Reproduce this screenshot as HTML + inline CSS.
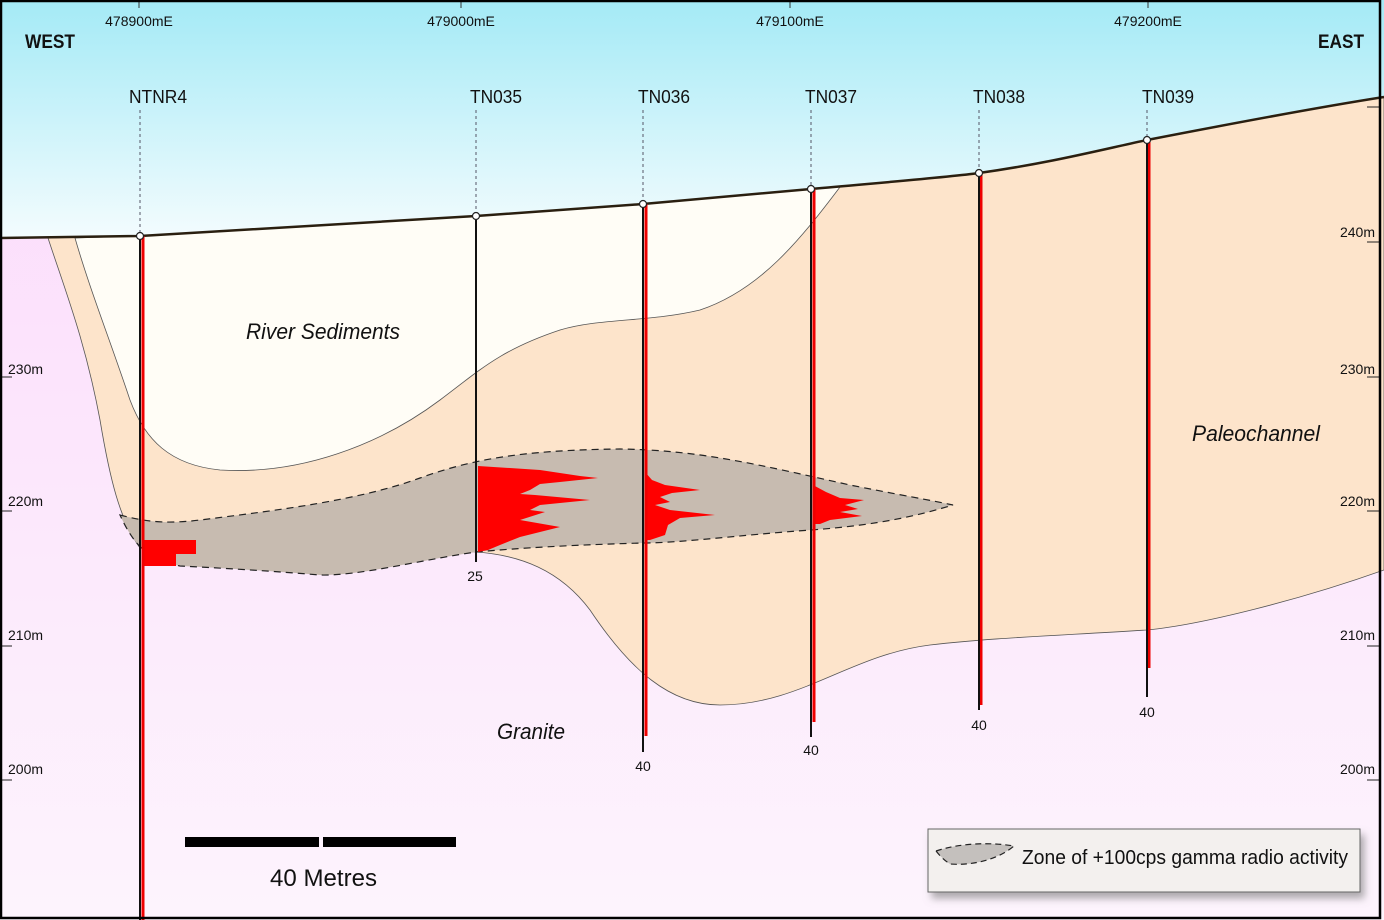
<!DOCTYPE html>
<html><head><meta charset="utf-8"><style>
html,body{margin:0;padding:0;background:#fff}
svg{display:block}
text{font-family:"Liberation Sans",sans-serif;fill:#111}
</style></head><body>
<svg width="1384" height="920" viewBox="0 0 1384 920" xmlns="http://www.w3.org/2000/svg">
<defs>
<linearGradient id="sky" gradientUnits="userSpaceOnUse" x1="0" y1="0" x2="0" y2="240">
<stop offset="0" stop-color="#a4eaf6"/><stop offset="1" stop-color="#f4fcfe"/>
</linearGradient>
<linearGradient id="gr" x1="0" y1="0" x2="0" y2="1">
<stop offset="0" stop-color="#fbdcfb"/><stop offset="1" stop-color="#fdf4fd"/>
</linearGradient>
<filter id="sh" x="-5%" y="-20%" width="115%" height="160%"><feDropShadow dx="4" dy="6" stdDeviation="4" flood-color="#777" flood-opacity="0.6"/></filter>
</defs>
<rect x="0" y="0" width="1384" height="920" fill="url(#sky)"/>
<!-- granite -->
<path d="M0,238 L140,236 L476,216 L643,204 L811,189 C900,181 950,177 979,173 C1050,163 1100,150 1147,140 C1250,120 1320,107 1384,97 L1384,920 L0,920 Z" fill="url(#gr)"/>
<!-- paleochannel -->
<path d="M48,238 L140,236 L476,216 L643,204 L811,189 C900,181 950,177 979,173 C1050,163 1100,150 1147,140 C1250,120 1320,107 1384,97 L1384,570 C1300,600 1200,625 1147,630 C1050,636 990,638 930,645 C850,655 800,705 720,705 C670,705 630,670 590,610 C560,570 520,555 476,552 C400,548 330,570 300,566 C250,560 200,560 140,548 C120,520 110,480 100,420 C85,340 65,290 48,238 Z" fill="#fde4cb" stroke="#555" stroke-width="0.8"/>
<!-- river sediments -->
<path d="M75,238 L140,236 L476,216 L643,204 L811,189 L840,187 C800,240 760,290 700,310 C650,322 600,318 560,330 C500,350 480,370 440,400 C380,445 300,475 220,470 C170,465 145,440 130,400 C110,340 90,290 75,238 Z" fill="#fffdf6" stroke="#555" stroke-width="0.8"/>
<!-- ground line -->
<path d="M0,238 L140,236 L476,216 L643,204 L811,189 C900,181 950,177 979,173 C1050,163 1100,150 1147,140 C1250,120 1320,107 1384,97" fill="none" stroke="#2a1f10" stroke-width="2.5"/>
<!-- zone -->
<path d="M120,515 C140,520 160,525 200,520 C280,510 360,500 420,478 C470,460 520,450 620,449 C700,450 760,465 850,485 C900,495 930,500 953,505 C920,515 880,525 811,530 C740,535 680,543 643,543 C570,545 520,548 476,552 C420,560 360,576 320,575 C260,570 200,567 180,566 C150,560 135,548 120,515 Z" fill="#c7bbb0" stroke="#222" stroke-width="1.2" stroke-dasharray="7,5"/>
<!-- red logs -->
<path d="M142,540 L196,540 L196,554 L176,554 L176,566 L142,566 Z" fill="#f00"/>
<path d="M478,466 L540,470 L580,476 L598,478 L560,482 L540,484 L530,490 L520,494 L535,495 L590,500 L540,505 L530,510 L545,512 L520,520 L560,527 L540,532 L520,537 L500,545 L488,550 L478,552 Z" fill="#f00"/>
<path d="M645,472 L652,480 L665,485 L700,490 L672,493 L660,497 L670,502 L655,505 L670,510 L715,515 L680,518 L668,525 L665,535 L650,540 L645,540 Z" fill="#f00"/>
<path d="M813,485 L826,492 L840,498 L864,500 L845,505 L858,509 L840,512 L862,516 L830,520 L820,524 L813,524 Z" fill="#f00"/>
<!-- holes -->
<g stroke="#556" stroke-width="1" stroke-dasharray="3,3">
<line x1="140" y1="110" x2="140" y2="236"/><line x1="476" y1="110" x2="476" y2="216"/><line x1="643" y1="110" x2="643" y2="204"/><line x1="811" y1="110" x2="811" y2="189"/><line x1="979" y1="110" x2="979" y2="173"/><line x1="1147" y1="110" x2="1147" y2="140"/>
</g>
<g stroke="#e00" stroke-width="3">
<line x1="143" y1="236" x2="143" y2="920"/><line x1="646" y1="204" x2="646" y2="736"/><line x1="814" y1="189" x2="814" y2="722"/><line x1="981" y1="173" x2="981" y2="705"/><line x1="1149" y1="140" x2="1149" y2="668"/>
</g>
<g stroke="#111" stroke-width="2">
<line x1="140" y1="236" x2="140" y2="920"/><line x1="476" y1="216" x2="476" y2="562"/><line x1="643" y1="204" x2="643" y2="752"/><line x1="811" y1="189" x2="811" y2="737"/><line x1="979" y1="173" x2="979" y2="710"/><line x1="1147" y1="140" x2="1147" y2="697"/>
</g>
<g fill="#fff" stroke="#222" stroke-width="1.2">
<circle cx="140" cy="236" r="3.5"/><circle cx="476" cy="216" r="3.5"/><circle cx="643" cy="204" r="3.5"/><circle cx="811" cy="189" r="3.5"/><circle cx="979" cy="173" r="3.5"/><circle cx="1147" cy="140" r="3.5"/>
</g>
<g font-size="18" text-anchor="middle">
<text x="158" y="103" textLength="58" lengthAdjust="spacingAndGlyphs">NTNR4</text><text x="496" y="103" textLength="52" lengthAdjust="spacingAndGlyphs">TN035</text><text x="664" y="103" textLength="52" lengthAdjust="spacingAndGlyphs">TN036</text><text x="831" y="103" textLength="52" lengthAdjust="spacingAndGlyphs">TN037</text><text x="999" y="103" textLength="52" lengthAdjust="spacingAndGlyphs">TN038</text><text x="1168" y="103" textLength="52" lengthAdjust="spacingAndGlyphs">TN039</text>
</g>
<g font-size="14" text-anchor="middle">
<text x="475" y="581">25</text><text x="643" y="771">40</text><text x="811" y="755">40</text><text x="979" y="730">40</text><text x="1147" y="717">40</text>
</g>
<!-- top eastings -->
<g stroke="#333" stroke-width="1"><line x1="139" y1="0" x2="139" y2="8"/><line x1="461" y1="0" x2="461" y2="8"/><line x1="790" y1="0" x2="790" y2="8"/><line x1="1148" y1="0" x2="1148" y2="8"/></g>
<g font-size="14" text-anchor="middle">
<text x="139" y="26">478900mE</text><text x="461" y="26">479000mE</text><text x="790" y="26">479100mE</text><text x="1148" y="26">479200mE</text>
</g>
<text x="25" y="48" font-size="19" font-weight="bold" textLength="50" lengthAdjust="spacingAndGlyphs">WEST</text>
<text x="1318" y="48" font-size="19" font-weight="bold" textLength="46" lengthAdjust="spacingAndGlyphs">EAST</text>
<!-- elevation ticks -->
<g stroke="#222" stroke-width="1">
<line x1="2" y1="377" x2="12" y2="377"/><line x1="2" y1="511" x2="12" y2="511"/><line x1="2" y1="646" x2="12" y2="646"/><line x1="2" y1="780" x2="12" y2="780"/>
<line x1="1367" y1="107" x2="1380" y2="107"/><line x1="1367" y1="242" x2="1380" y2="242"/><line x1="1367" y1="377" x2="1380" y2="377"/><line x1="1367" y1="511" x2="1380" y2="511"/><line x1="1367" y1="646" x2="1380" y2="646"/><line x1="1367" y1="780" x2="1380" y2="780"/>
</g>
<g font-size="14">
<text x="8" y="374">230m</text><text x="8" y="506">220m</text><text x="8" y="640">210m</text><text x="8" y="774">200m</text>
</g>
<g font-size="14" text-anchor="end">
<text x="1375" y="237">240m</text><text x="1375" y="374">230m</text><text x="1375" y="506">220m</text><text x="1375" y="640">210m</text><text x="1375" y="774">200m</text>
</g>
<g font-size="22" font-style="italic">
<text x="246" y="339" textLength="154" lengthAdjust="spacingAndGlyphs">River Sediments</text><text x="1192" y="441" textLength="128" lengthAdjust="spacingAndGlyphs">Paleochannel</text><text x="497" y="739" textLength="68" lengthAdjust="spacingAndGlyphs">Granite</text>
</g>
<!-- scale bar -->
<rect x="185" y="837" width="134" height="10" fill="#000"/><rect x="323" y="837" width="133" height="10" fill="#000"/>
<text x="270" y="886" font-size="24" textLength="107" lengthAdjust="spacingAndGlyphs">40 Metres</text>
<!-- legend -->
<rect x="928" y="829" width="432" height="63" fill="#f3f0ee" stroke="#666" stroke-width="1" filter="url(#sh)"/>
<path d="M936,851 C960,843 990,842 1014,846 C1000,858 975,866 950,864 C944,860 940,856 936,851 Z" fill="#c4c0bd" stroke="#222" stroke-width="1.2" stroke-dasharray="6,4"/>
<text x="1022" y="864" font-size="20" textLength="326" lengthAdjust="spacingAndGlyphs">Zone of +100cps gamma radio activity</text>
<rect x="1" y="1" width="1379" height="917" fill="none" stroke="#000" stroke-width="2.5"/>
</svg>
</body></html>
